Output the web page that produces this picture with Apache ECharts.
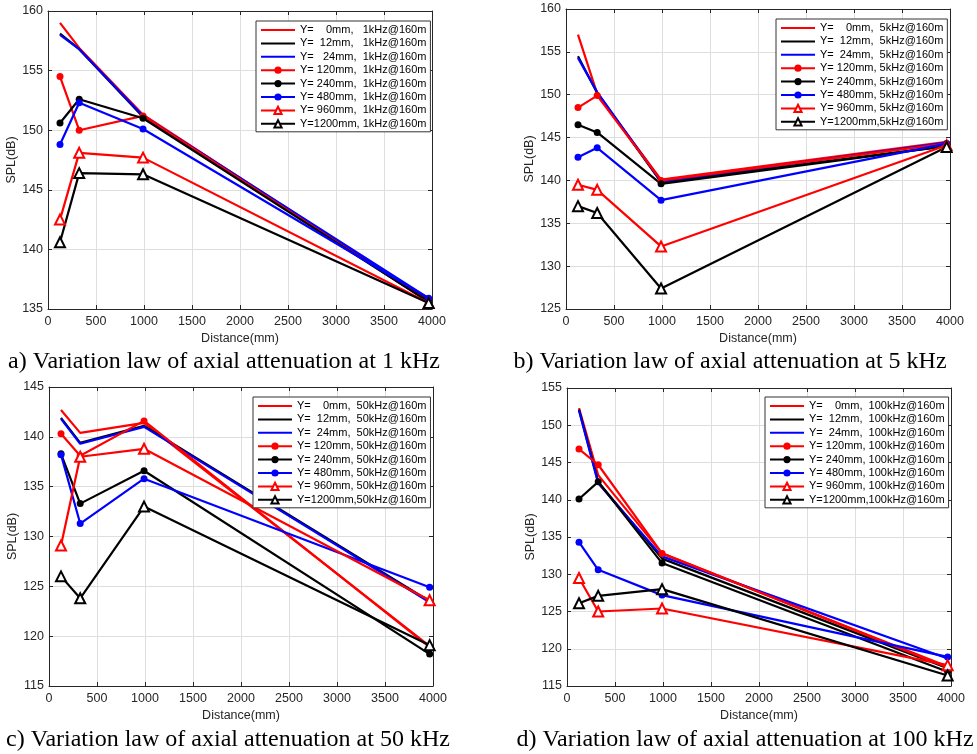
<!DOCTYPE html>
<html>
<head>
<meta charset="utf-8">
<script src="https://cdn.jsdelivr.net/npm/echarts@6/dist/echarts.min.js"></script>
<style>
  html, body { margin: 0; padding: 0; background: #fff; }
  #chart { width: 977px; height: 754px; }
</style>
</head>
<body>
<div id="chart"></div>
<script>
// distance of the measuring points (mm)
var distances = [125, 325, 990, 3965];

// legend names
var names1k = ["Y=    0mm,   1kHz@160m", "Y=  12mm,   1kHz@160m", "Y=   24mm,  1kHz@160m", "Y= 120mm,  1kHz@160m",
  "Y= 240mm,  1kHz@160m", "Y= 480mm,  1kHz@160m", "Y= 960mm,  1kHz@160m", "Y=1200mm, 1kHz@160m"];
var names5k = ["Y=    0mm,  5kHz@160m", "Y=  12mm,  5kHz@160m", "Y=  24mm,  5kHz@160m", "Y= 120mm, 5kHz@160m",
  "Y= 240mm, 5kHz@160m", "Y= 480mm, 5kHz@160m", "Y= 960mm, 5kHz@160m", "Y=1200mm,5kHz@160m"];
var names50k = ["Y=    0mm,  50kHz@160m", "Y=  12mm,  50kHz@160m", "Y=  24mm,  50kHz@160m", "Y= 120mm, 50kHz@160m",
  "Y= 240mm, 50kHz@160m", "Y= 480mm, 50kHz@160m", "Y= 960mm, 50kHz@160m", "Y=1200mm,50kHz@160m"];
var names100k = ["Y=    0mm,  100kHz@160m", "Y=  12mm,  100kHz@160m", "Y=  24mm,  100kHz@160m", "Y= 120mm, 100kHz@160m",
  "Y= 240mm, 100kHz@160m", "Y= 480mm, 100kHz@160m", "Y= 960mm, 100kHz@160m", "Y=1200mm,100kHz@160m"];

// SPL values (dB), one row per Y offset: 0,12,24,120,240,480,960,1200 mm
var spl1k = [
  [159.0, 156.9, 151.3, 135.7],
  [158.1, 156.8, 151.1, 135.8],
  [158.0, 156.8, 151.2, 135.9],
  [154.5, 150.0, 151.2, 135.6],
  [150.6, 152.6, 151.0, 135.6],
  [148.8, 152.3, 150.1, 135.9],
  [142.5, 148.1, 147.7, 135.5],
  [140.6, 146.4, 146.3, 135.5]
];
var spl5k = [
  [157.0, 150.1, 140.1, 144.5],
  [154.5, 150.2, 139.8, 144.0],
  [154.3, 150.3, 139.9, 144.4],
  [148.5, 149.9, 140.0, 144.3],
  [146.5, 145.6, 139.6, 144.0],
  [142.7, 143.8, 137.7, 144.3],
  [139.5, 138.9, 132.3, 144.1],
  [137.0, 136.2, 127.4, 143.9]
];
var spl50k = [
  [142.7, 140.4, 141.4, 119.0],
  [141.9, 139.4, 141.1, 123.5],
  [141.8, 139.3, 141.0, 123.4],
  [140.3, 138.1, 141.6, 118.9],
  [138.3, 133.3, 136.6, 118.2],
  [138.2, 131.3, 135.8, 124.9],
  [129.1, 138.0, 138.8, 123.6],
  [126.0, 123.8, 133.0, 119.1]
];
var spl100k = [
  [152.3, 143.3, 132.8, 117.6],
  [152.1, 142.4, 132.1, 117.4],
  [152.0, 142.2, 132.4, 118.7],
  [146.8, 144.7, 132.8, 117.5],
  [140.1, 142.4, 131.5, 116.9],
  [134.3, 130.6, 127.2, 118.9],
  [129.5, 125.0, 125.4, 117.8],
  [126.1, 127.1, 128.0, 116.4]
];

var colors = ["#ff0000", "#000000", "#0000ff", "#ff0000", "#000000", "#0000ff", "#ff0000", "#000000"];
var symbols = ["none", "none", "none", "circle", "circle", "circle", "emptyTriangle", "emptyTriangle"];
var symbolSizes = [0, 0, 0, 7, 7, 7, 10, 10];

var panels = [
  { values: spl1k, names: names1k, yMin: 135, yMax: 160, grid: { left: 48, top: 11, width: 384, height: 298 }, legend: { left: 256, top: 21 } },
  { values: spl5k, names: names5k, yMin: 125, yMax: 160, grid: { left: 566, top: 9, width: 384, height: 300 }, legend: { left: 776, top: 19 } },
  { values: spl50k, names: names50k, yMin: 115, yMax: 145, grid: { left: 49, top: 387, width: 384, height: 299 }, legend: { left: 253, top: 397 } },
  { values: spl100k, names: names100k, yMin: 115, yMax: 155, grid: { left: 567, top: 388, width: 384, height: 298 }, legend: { left: 765, top: 397 } }
];
var captions = [
  { text: "a) Variation law of axial attenuation at 1 kHz", x: 224, y: 362 },
  { text: "b) Variation law of axial attenuation at 5 kHz", x: 730, y: 362 },
  { text: "c) Variation law of axial attenuation at 50 kHz", x: 228, y: 740 },
  { text: "d) Variation law of axial attenuation at 100 kHz", x: 745, y: 740 }
];

var axisFont = "Liberation Sans";
var textColor = "#262626";
var plain = function (v) { return String(v); };

var grids = [], xAxes = [], yAxes = [], legends = [], series = [], graphics = [];

panels.forEach(function (p, i) {
  grids.push(p.grid);
  // bottom / left axes
  xAxes.push({
    type: "value", gridIndex: i, min: 0, max: 4000, interval: 500,
    name: "Distance(mm)", nameLocation: "middle", nameGap: 23,
    nameTextStyle: { fontFamily: axisFont, fontSize: 12.5, color: textColor },
    axisLine: { show: true, onZero: false, lineStyle: { color: "#262626", width: 1 } },
    axisTick: { show: true, inside: true, length: 4, lineStyle: { color: "#262626" } },
    axisLabel: { fontFamily: axisFont, fontSize: 12.5, color: textColor, margin: 6, formatter: plain },
    splitLine: { show: true, lineStyle: { color: "#dedede", width: 1 } }
  });
  yAxes.push({
    type: "value", gridIndex: i, min: p.yMin, max: p.yMax, interval: 5,
    name: "SPL(dB)", nameLocation: "middle", nameGap: 25,
    nameTextStyle: { fontFamily: axisFont, fontSize: 12.5, color: textColor },
    axisLine: { show: true, onZero: false, lineStyle: { color: "#262626", width: 1 } },
    axisTick: { show: true, inside: true, length: 4, lineStyle: { color: "#262626" } },
    axisLabel: { fontFamily: axisFont, fontSize: 12.5, color: textColor, margin: 5, formatter: plain },
    splitLine: { show: true, lineStyle: { color: "#dedede", width: 1 } }
  });
  legends.push({
    data: p.names.map(function (n, k) {
      var item = { name: n };
      if (symbols[k] === "none") item.itemStyle = { color: "rgba(0,0,0,0)", borderWidth: 0 };
      return item;
    }),
    orient: "vertical", left: p.legend.left, top: p.legend.top,
    backgroundColor: "#fff", borderColor: "#333", borderWidth: 1,
    padding: [3, 4, 2, 4], itemWidth: 34, itemHeight: 9, itemGap: 1.4,
    selectedMode: false,
    textStyle: { fontFamily: axisFont, fontSize: 11, color: "#000", lineHeight: 12 }
  });
  p.values.forEach(function (row, k) {
    series.push({
      name: p.names[k], type: "line", xAxisIndex: i, yAxisIndex: i,
      data: row.map(function (v, j) { return [distances[j], v]; }),
      symbol: symbols[k], symbolSize: symbolSizes[k],
      lineStyle: { color: colors[k], width: 2.2 },
      itemStyle: { color: colors[k], borderWidth: 1.5 },
      animation: false
    });
  });
});

// top / right box axes (ticks only)
panels.forEach(function (p, i) {
  xAxes.push({
    type: "value", gridIndex: i, position: "top", min: 0, max: 4000, interval: 500,
    axisLine: { show: true, onZero: false, lineStyle: { color: "#262626", width: 1 } },
    axisTick: { show: true, inside: true, length: 4, lineStyle: { color: "#262626" } },
    axisLabel: { show: false }, splitLine: { show: false }
  });
  yAxes.push({
    type: "value", gridIndex: i, position: "right", min: p.yMin, max: p.yMax, interval: 5,
    axisLine: { show: true, onZero: false, lineStyle: { color: "#262626", width: 1 } },
    axisTick: { show: true, inside: true, length: 4, lineStyle: { color: "#262626" } },
    axisLabel: { show: false }, splitLine: { show: false }
  });
});

captions.forEach(function (c) {
  graphics.push({
    type: "text", x: c.x, y: c.y,
    style: { text: c.text, fontFamily: "Liberation Serif", fontSize: 24, fill: "#000", align: "center", verticalAlign: "middle" }
  });
});

var chart = echarts.init(document.getElementById("chart"));
chart.setOption({
  animation: false,
  grid: grids,
  xAxis: xAxes,
  yAxis: yAxes,
  legend: legends,
  series: series,
  graphic: graphics
});
</script>
</body>
</html>
